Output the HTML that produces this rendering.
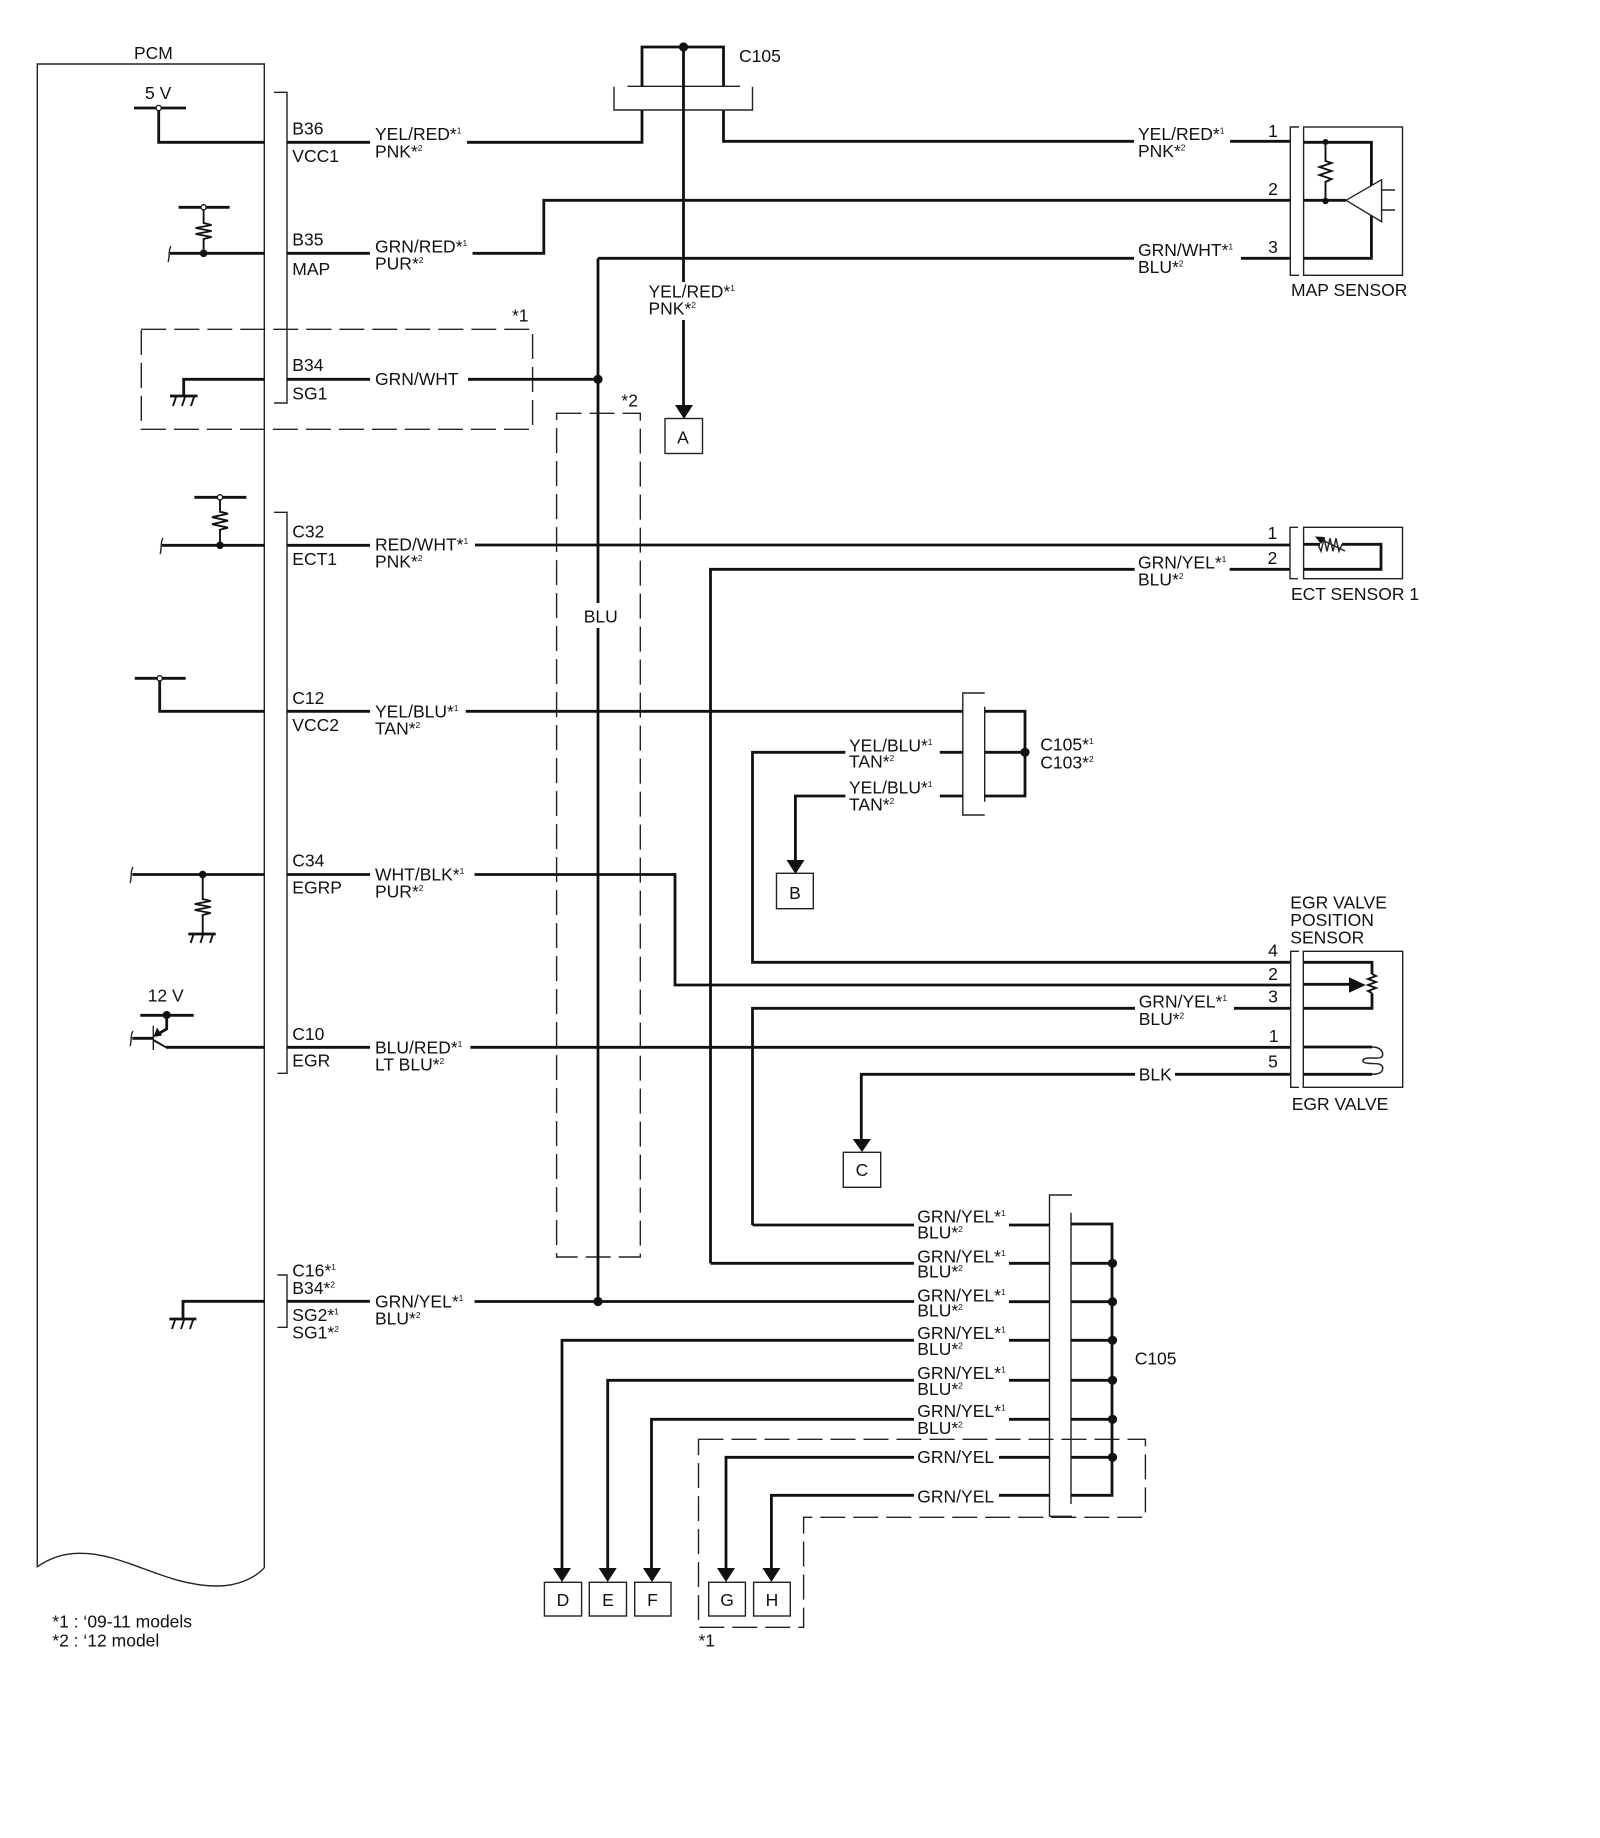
<!DOCTYPE html>
<html><head><meta charset="utf-8"><title>PCM wiring diagram</title>
<style>
html,body{margin:0;padding:0;background:#fff}
svg{display:block}
text{font-family:"Liberation Sans",sans-serif;font-size:17.5px;fill:#111}
.s{font-size:8.5px}
.w{fill:none;stroke:#111;stroke-width:2.8}
.t{fill:none;stroke:#222;stroke-width:1.4}
.m{fill:none;stroke:#111;stroke-width:1.9}
.d{fill:none;stroke:#222;stroke-width:1.4;stroke-dasharray:25 8}
.b{fill:#fff;stroke:#222;stroke-width:1.4}
.f{fill:#111;stroke:none}
.o{fill:#fff;stroke:#111;stroke-width:1.3}
</style></head><body>
<svg width="1600" height="1838" viewBox="0 0 1600 1838" xmlns="http://www.w3.org/2000/svg">
<rect width="1600" height="1838" fill="#fff"/>

<!-- PCM -->
<path class="t" d="M37.3 1566.7V64H264.3V1567.7C255 1578 238 1586 217 1586C165 1586 125 1553 80 1553.3C65 1553 50 1558 37.3 1566.7Z"/>
<text x="134" y="59">PCM</text>
<path class="t" d="M274 92.3H287V403H274M274 512.3H287V1073.3H277.5M277.5 1275H287V1327.3H277.5"/>

<!-- dashed boxes -->
<path class="d" d="M141.3 329.3H532.6V429.3H141.3Z"/>
<text x="512" y="321.7">*1</text>
<path class="d" d="M556.6 413.3H640.3V1257H556.6Z"/>
<text x="621.4" y="406.7">*2</text>
<path class="d" d="M698.5 1439.3H1145.4V1517.3H803.6V1627.3H698.5Z"/>
<text x="698.5" y="1646.7">*1</text>

<!-- 5V B36 -->
<path class="w" d="M134 108H186M158.7 108V142.3H264.3M287 142.3H370M467 142.3H642V110M723.5 110V141.3H1134M1230 141.3H1290"/>
<circle class="o" cx="158.7" cy="108" r="2.6"/>
<text x="145" y="99">5 V</text>
<text x="292.3" y="134.7">B36</text><text x="292.3" y="162">VCC1</text>
<text x="375" y="140">YEL/RED*<tspan class="s" dy="-6.5">1</tspan></text>
<text x="375" y="157.3">PNK*<tspan class="s" dy="-6.5">2</tspan></text>

<!-- C105 top -->
<path class="t" d="M614 86.7V110H752.5V86.7M627.5 86.3H740"/>
<path class="w" d="M642 86V47H723.5V86M683.5 47V282M683.5 320V405"/>
<circle class="f" cx="683.5" cy="47" r="4.6"/>
<text x="739" y="62">C105</text>
<text x="648.5" y="297.7">YEL/RED*<tspan class="s" dy="-6.5">1</tspan></text>
<text x="648.5" y="314.3">PNK*<tspan class="s" dy="-6.5">2</tspan></text>
<polygon class="f" points="675,405 693,405 684,419"/>
<rect class="b" x="665" y="418.5" width="37.5" height="35"/>
<text x="683" y="443.3" text-anchor="middle">A</text>

<!-- B35 -->
<path class="w" d="M178.6 207.3H229.6M170 253.3H264.3M287 253.3H370M472.5 253.3H543.8V200.3H1290"/>
<path class="m" d="M203.6 207V223l8 2-16 3 16 3-16 3 16 3-8 2V253"/>
<path class="t" d="M171 246C168 250 170 258 168 262"/>
<circle class="o" cx="203.6" cy="207.3" r="2.6"/>
<circle class="f" cx="203.6" cy="253.3" r="3.8"/>
<text x="292.3" y="245.7">B35</text><text x="292.3" y="275">MAP</text>
<text x="375" y="252.7">GRN/RED*<tspan class="s" dy="-6.5">1</tspan></text>
<text x="375" y="269.3">PUR*<tspan class="s" dy="-6.5">2</tspan></text>

<!-- GRN/WHT -->
<path class="w" d="M598 258.3H1134M1241 258.3H1290M598 258.3V603M598 628V1301.3"/>
<text x="1138" y="256">GRN/WHT*<tspan class="s" dy="-6.5">1</tspan></text>
<text x="1138" y="273">BLU*<tspan class="s" dy="-6.5">2</tspan></text>
<text x="1138" y="140">YEL/RED*<tspan class="s" dy="-6.5">1</tspan></text>
<text x="1138" y="157">PNK*<tspan class="s" dy="-6.5">2</tspan></text>
<text x="583.7" y="622.3">BLU</text>

<!-- B34 -->
<path class="w" d="M264.3 379.3H183.7V396M170 396H197.5M287 379.3H370M468 379.3H598"/>
<path class="m" d="M176 397l-3 9M185 397l-3 9M194 397l-3 9"/>
<circle class="f" cx="598" cy="379.3" r="4.6"/>
<text x="292.3" y="371">B34</text><text x="292.3" y="399.3">SG1</text>
<text x="375" y="385">GRN/WHT</text>

<!-- MAP sensor -->
<path class="t" d="M1299 127H1290.3V275.3H1299"/>
<rect class="t" x="1303.6" y="127" width="98.9" height="148.3"/>
<path class="w" d="M1303.6 142.3H1371.4V187M1371.4 212V258.3H1303.6M1303.6 200.3H1346"/>
<path class="m" d="M1325.5 142V161l6 2-12 4 12 4-12 4 12 4-6 3V200"/>
<circle class="f" cx="1325.5" cy="142" r="3"/>
<circle class="f" cx="1325.5" cy="201" r="3.2"/>
<polygon points="1346,200.3 1381.6,179.7 1381.6,221.7" fill="#fff" stroke="#222" stroke-width="1.4"/>
<path class="t" d="M1381.6 190H1395M1381.6 210H1395"/>
<text x="1273" y="137" text-anchor="middle">1</text>
<text x="1273" y="195" text-anchor="middle">2</text>
<text x="1273" y="253" text-anchor="middle">3</text>
<text x="1291" y="296">MAP SENSOR</text>

<!-- C32 -->
<path class="w" d="M194.4 497.3H246.4M162 545.3H264.3M287 545.3H370M475 545H1290"/>
<path class="m" d="M220 497.3V511.7l8 2-16 3.5 16 3.5-16 3.5 16 3.5-8 2V545"/>
<path class="t" d="M163 538C160 542 162 550 160 554"/>
<circle class="o" cx="220" cy="497.3" r="2.6"/>
<circle class="f" cx="220" cy="545.3" r="3.8"/>
<text x="292.3" y="537.7">C32</text><text x="292.3" y="565">ECT1</text>
<text x="375" y="550.7">RED/WHT*<tspan class="s" dy="-6.5">1</tspan></text>
<text x="375" y="567.7">PNK*<tspan class="s" dy="-6.5">2</tspan></text>

<!-- ECT sensor -->
<path class="w" d="M710.5 1263.3V569.3H1134.7M1229.6 569.3H1290"/>
<text x="1138" y="568.3">GRN/YEL*<tspan class="s" dy="-6.5">1</tspan></text>
<text x="1138" y="585.7">BLU*<tspan class="s" dy="-6.5">2</tspan></text>
<path class="t" d="M1298 527.3H1290V578.7H1298"/>
<rect class="t" x="1303.6" y="527.3" width="98.9" height="51.4"/>
<path class="w" d="M1303.6 544.3H1320M1342 544.3H1381V569.3H1303.6"/>
<path class="t" d="M1318 544.3l3 7 3-13 3 13 3-13 3 13 3-13 3 13 3-7"/>
<path class="t" d="M1345 551L1320 539"/>
<polygon class="f" points="1315,536.5 1325,537 1321,544"/>
<text x="1272.4" y="539" text-anchor="middle">1</text>
<text x="1272.4" y="564" text-anchor="middle">2</text>
<text x="1291" y="600">ECT SENSOR 1</text>

<!-- C12 -->
<path class="w" d="M134.7 678.3H185.7M159.7 678.3V711.3H264.3M287 711.3H370M465.8 711.3H962.8"/>
<circle class="o" cx="159.7" cy="678.3" r="2.6"/>
<text x="292.3" y="704">C12</text><text x="292.3" y="731">VCC2</text>
<text x="375" y="717.3">YEL/BLU*<tspan class="s" dy="-6.5">1</tspan></text>
<text x="375" y="734.3">TAN*<tspan class="s" dy="-6.5">2</tspan></text>

<!-- middle C105/C103 -->
<path class="t" d="M984.7 693H962.8V815H984.7M984.7 706.7V801.7"/>
<path class="w" d="M984.7 711.3H1025V796H984.7M984.7 752.3H1025M939.8 752.3H962.8M939.8 796H962.8"/>
<circle class="f" cx="1025" cy="752.3" r="4.6"/>
<text x="1040.3" y="750.7">C105*<tspan class="s" dy="-6.5">1</tspan></text>
<text x="1040.3" y="768.3">C103*<tspan class="s" dy="-6.5">2</tspan></text>
<text x="849" y="751.7">YEL/BLU*<tspan class="s" dy="-6.5">1</tspan></text>
<text x="849" y="767.7">TAN*<tspan class="s" dy="-6.5">2</tspan></text>
<text x="849" y="793.3">YEL/BLU*<tspan class="s" dy="-6.5">1</tspan></text>
<text x="849" y="810.7">TAN*<tspan class="s" dy="-6.5">2</tspan></text>
<path class="w" d="M845.4 752.3H752.5V962.3H1290M845.4 796H795.4V860"/>
<polygon class="f" points="786.5,860 804.5,860 795.5,874"/>
<rect class="b" x="776.5" y="873.3" width="36.8" height="35.4"/>
<text x="795" y="899" text-anchor="middle">B</text>

<!-- C34 -->
<path class="w" d="M132.3 874.5H264.3M287 874.5H370M474.5 874.5H675V985H1290M188.3 934H215.7"/>
<path class="m" d="M202.7 874.5V899l8 2-16 3 16 3-16 3 16 3-8 2V934"/>
<path class="m" d="M193.3 935l-2.6 8M203 935l-2.6 8M212.7 935l-2.6 8"/>
<path class="t" d="M133 867C130 871 132 879 130 883"/>
<circle class="f" cx="202.7" cy="874.5" r="3.8"/>
<text x="292.3" y="866.7">C34</text><text x="292.3" y="893.3">EGRP</text>
<text x="375" y="880.7">WHT/BLK*<tspan class="s" dy="-6.5">1</tspan></text>
<text x="375" y="897.3">PUR*<tspan class="s" dy="-6.5">2</tspan></text>

<!-- C10 -->
<path class="w" d="M140.3 1015.3H193.7M132.3 1038.3H153.3M166.7 1015.3V1029L158 1034"/>
<path class="t" d="M153.3 1025.7V1050"/>
<path class="m" d="M153.3 1040L166 1047.3"/>
<path class="w" d="M166 1047.3H264.3M287 1047.3H370M470.4 1047.3H1290"/>
<polygon class="f" points="153.5,1037 157,1027.5 162,1035.5"/>
<path class="t" d="M133 1031C130 1035 132 1042 130 1046"/>
<circle class="f" cx="166.7" cy="1015" r="4"/>
<text x="147.7" y="1001.7">12 V</text>
<text x="292.3" y="1040">C10</text><text x="292.3" y="1066.7">EGR</text>
<text x="375" y="1053.3">BLU/RED*<tspan class="s" dy="-6.5">1</tspan></text>
<text x="375" y="1070.7">LT BLU*<tspan class="s" dy="-6.5">2</tspan></text>

<!-- EGR sensor -->
<text x="1290.3" y="908.7">EGR VALVE</text>
<text x="1290.3" y="926">POSITION</text>
<text x="1290.3" y="943.5">SENSOR</text>
<path class="t" d="M1299 951.3H1290.7V1087.3H1299"/>
<rect class="t" x="1303.3" y="951.3" width="99.4" height="136"/>
<path class="w" d="M752.5 1225V1008.3H1135M1234 1008.3H1290M861.3 1139V1074.3H1135M1175 1074.3H1290"/>
<path class="w" d="M1303.3 962.3H1372V974M1372 993.3V1008.3H1303.3M1303.3 984.3H1350M1303.3 1047H1372M1303.3 1074.3H1372"/>
<path class="m" d="M1372 974l4 2-8 3 8 3-8 3 8 3-8 3 4 2"/>
<polygon class="f" points="1349,977.3 1365.7,985 1349,992.7"/>
<path class="t" d="M1372 1047C1380 1047 1383 1051 1382.7 1055C1382 1059 1376 1058 1370 1058C1364 1058 1362 1060 1363 1061.5C1364 1063 1368 1063.5 1372 1063.5C1378 1063.5 1382.7 1064 1382.7 1068C1382.7 1072 1380 1074.3 1372 1074.3" style="stroke-width:1.5"/>
<text x="1273" y="956.7" text-anchor="middle">4</text>
<text x="1273" y="980" text-anchor="middle">2</text>
<text x="1273" y="1002.7" text-anchor="middle">3</text>
<text x="1273.7" y="1042" text-anchor="middle">1</text>
<text x="1273" y="1067.7" text-anchor="middle">5</text>
<text x="1138.7" y="1007.7">GRN/YEL*<tspan class="s" dy="-6.5">1</tspan></text>
<text x="1138.7" y="1025">BLU*<tspan class="s" dy="-6.5">2</tspan></text>
<text x="1138.7" y="1080.3">BLK</text>
<text x="1291.7" y="1110">EGR VALVE</text>
<polygon class="f" points="852.7,1139 871,1139 862,1152"/>
<rect class="b" x="843.3" y="1152.3" width="37.4" height="35"/>
<text x="862" y="1176" text-anchor="middle">C</text>

<!-- C16 -->
<path class="w" d="M264.3 1301.3H183V1319M169.4 1319H196.4M287 1301.3H370M474.5 1301.5H914"/>
<path class="m" d="M175 1320l-3 9M184 1320l-3 9M193 1320l-3 9"/>
<circle class="f" cx="598" cy="1301.5" r="4.6"/>
<text x="292.3" y="1276.7">C16*<tspan class="s" dy="-6.5">1</tspan></text>
<text x="292.3" y="1294">B34*<tspan class="s" dy="-6.5">2</tspan></text>
<text x="292.3" y="1321">SG2*<tspan class="s" dy="-6.5">1</tspan></text>
<text x="292.3" y="1338.7">SG1*<tspan class="s" dy="-6.5">2</tspan></text>
<text x="375" y="1307.3">GRN/YEL*<tspan class="s" dy="-6.5">1</tspan></text>
<text x="375" y="1324.3">BLU*<tspan class="s" dy="-6.5">2</tspan></text>

<!-- bottom C105 -->
<path class="t" d="M1072 1195H1049.5V1516.3H1072M1071 1212.7V1504"/>
<path class="w" d="M752.5 1225H914M710.5 1263.3H914M562 1568V1340.3H914M607.7 1568V1380.3H914M651.5 1568V1419.3H914M726 1568V1457.3H914M771.4 1568V1495.3H914"/>
<path class="w" d="M1009 1225H1049.5M1009 1263.3H1049.5M1009 1301.7H1049.5M1009 1340.3H1049.5M1009 1380.3H1049.5M1009 1419.3H1049.5M999 1457.3H1049.5M999 1495.3H1049.5"/>
<path class="w" d="M1071 1224H1112V1495.3H1071M1071 1263.3H1112M1071 1301.7H1112M1071 1340.3H1112M1071 1380.3H1112M1071 1419.3H1112M1071 1457.3H1112"/>
<circle class="f" cx="1112.5" cy="1263.3" r="4.6"/>
<circle class="f" cx="1112.5" cy="1301.7" r="4.6"/>
<circle class="f" cx="1112.5" cy="1340.3" r="4.6"/>
<circle class="f" cx="1112.5" cy="1380.3" r="4.6"/>
<circle class="f" cx="1112.5" cy="1419.3" r="4.6"/>
<circle class="f" cx="1112.5" cy="1457.3" r="4.6"/>
<text x="1134.7" y="1364.3">C105</text>
<text x="917.3" y="1222.7">GRN/YEL*<tspan class="s" dy="-6.5">1</tspan></text><text x="917.3" y="1238.7">BLU*<tspan class="s" dy="-6.5">2</tspan></text>
<text x="917.3" y="1262.7">GRN/YEL*<tspan class="s" dy="-6.5">1</tspan></text><text x="917.3" y="1277.7">BLU*<tspan class="s" dy="-6.5">2</tspan></text>
<text x="917.3" y="1301.7">GRN/YEL*<tspan class="s" dy="-6.5">1</tspan></text><text x="917.3" y="1316.7">BLU*<tspan class="s" dy="-6.5">2</tspan></text>
<text x="917.3" y="1339">GRN/YEL*<tspan class="s" dy="-6.5">1</tspan></text><text x="917.3" y="1355">BLU*<tspan class="s" dy="-6.5">2</tspan></text>
<text x="917.3" y="1379">GRN/YEL*<tspan class="s" dy="-6.5">1</tspan></text><text x="917.3" y="1395">BLU*<tspan class="s" dy="-6.5">2</tspan></text>
<text x="917.3" y="1417">GRN/YEL*<tspan class="s" dy="-6.5">1</tspan></text><text x="917.3" y="1434">BLU*<tspan class="s" dy="-6.5">2</tspan></text>
<text x="917.3" y="1463">GRN/YEL</text>
<text x="917.3" y="1502.7">GRN/YEL</text>

<!-- bottom terminals -->
<polygon class="f" points="553,1568 571,1568 562,1582"/>
<polygon class="f" points="598.7,1568 616.7,1568 607.7,1582"/>
<polygon class="f" points="643,1568 661,1568 652,1582"/>
<polygon class="f" points="717,1568 735,1568 726,1582"/>
<polygon class="f" points="762.4,1568 780.4,1568 771.4,1582"/>
<rect class="b" x="544.4" y="1582.3" width="37.2" height="33.7"/>
<rect class="b" x="589.3" y="1582.3" width="37.2" height="33.7"/>
<rect class="b" x="634.7" y="1582.3" width="36.3" height="33.7"/>
<rect class="b" x="708.7" y="1582.3" width="36.7" height="33.7"/>
<rect class="b" x="753.6" y="1582.3" width="36.7" height="33.7"/>
<text x="563" y="1606" text-anchor="middle">D</text>
<text x="608" y="1606" text-anchor="middle">E</text>
<text x="652.5" y="1606" text-anchor="middle">F</text>
<text x="727" y="1606" text-anchor="middle">G</text>
<text x="772" y="1606" text-anchor="middle">H</text>

<!-- notes -->
<text x="52.3" y="1627.3">*1 : ‘09-11 models</text>
<text x="52.3" y="1646.7">*2 : ‘12 model</text>
</svg>
</body></html>
